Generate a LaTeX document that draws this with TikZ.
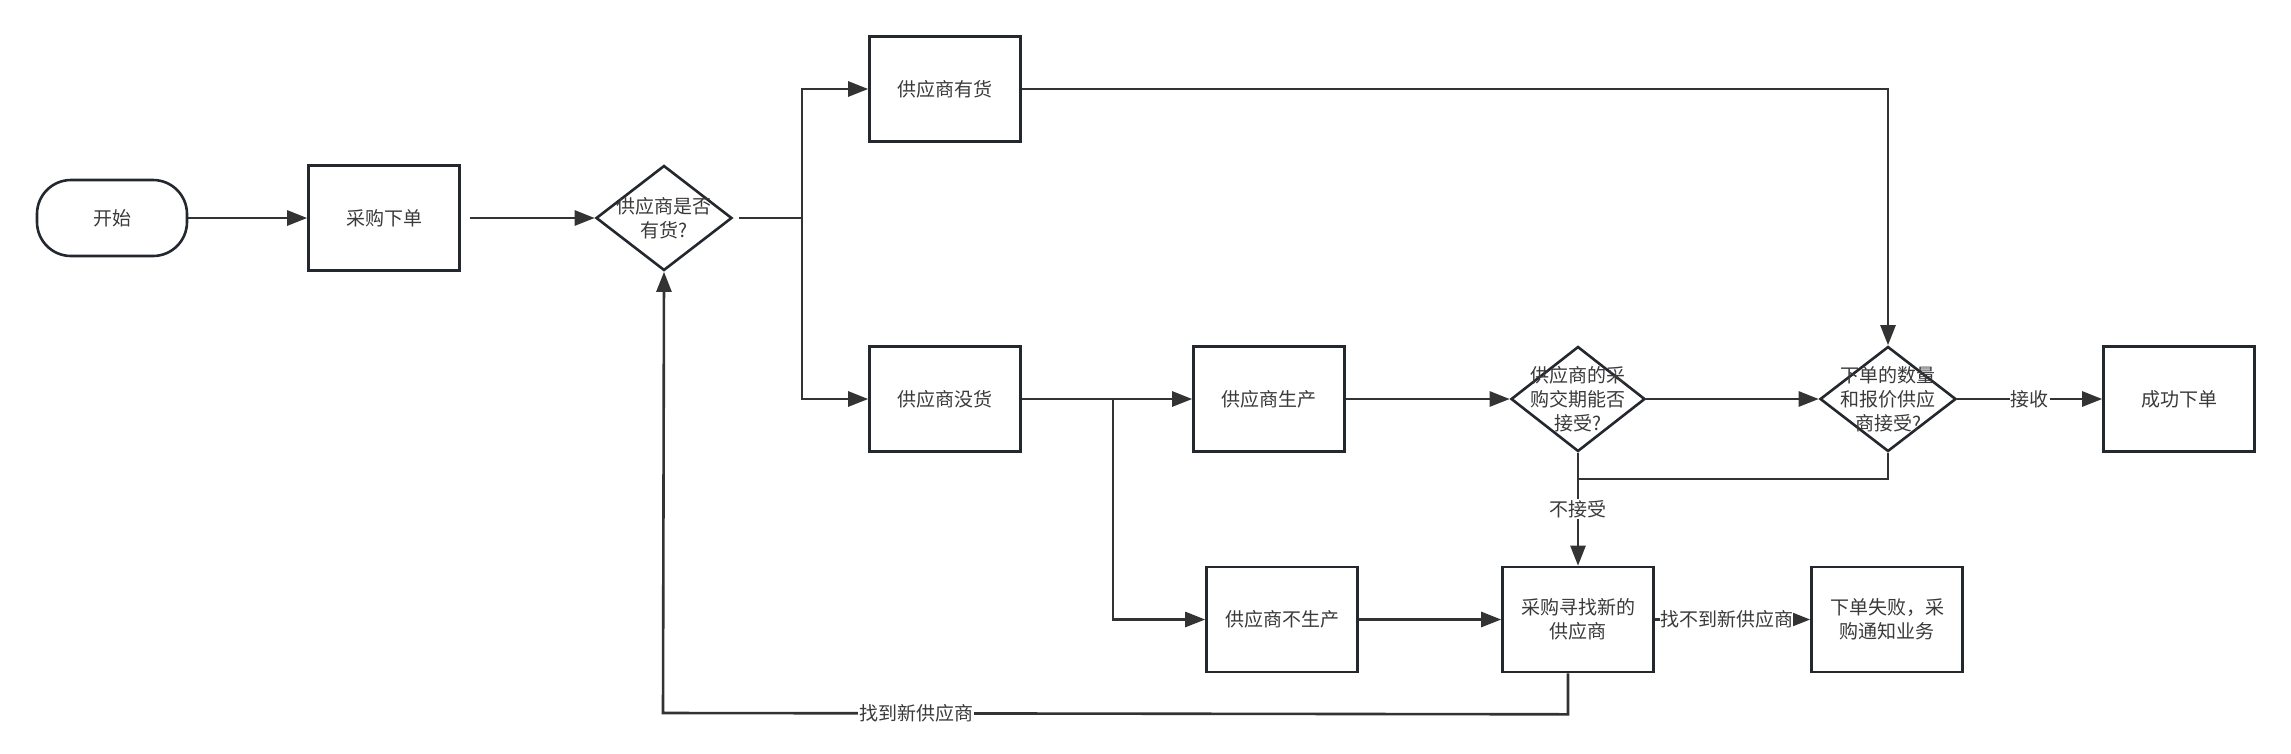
\documentclass[tikz,border=0pt]{standalone}
\usepackage{fontspec}
\newfontfamily\cjk{Noto Sans CJK SC}
\usetikzlibrary{arrows.meta,shapes.geometric,calc}
\definecolor{edgec}{HTML}{23272E}
\definecolor{linec}{HTML}{333333}
\definecolor{txtc}{HTML}{3A3A3A}
\begin{document}
\begin{tikzpicture}[x=1pt,y=-1pt,
  txt/.style={text=txtc, font=\cjk\fontsize{19}{24}\selectfont, align=center},
  base/.style={draw=edgec, line width=2.6pt, fill=white, inner sep=0pt, txt},
  proc/.style={base, rectangle, minimum width=151pt, minimum height=105pt},
  term/.style={base, rectangle, rounded corners=34pt, minimum width=150pt, minimum height=76pt},
  dec/.style={base, diamond, minimum width=136pt, minimum height=105pt},
  inner/.style={txt, inner sep=0pt},
  wire/.style={draw=linec, line width=2.6pt},
  conn/.style={wire, -{Triangle[length=20pt,width=15pt]}},
  lab/.style={txt, fill=white, inner sep=1pt}
]
\useasboundingbox (0,0) rectangle (2291,753);

\node[term] (start) at (112,218) {开始};
\node[proc] (order) at (384,218) {采购下单};
\node[dec, label={[inner]center:供应商是否\\有货?}] (d1) at (664,218) {};
\node[proc] (have) at (945,89) {供应商有货};
\node[proc] (none) at (945,399) {供应商没货};
\node[proc] (prod) at (1269,399) {供应商生产};
\node[dec, minimum width=134pt, label={[inner]center:供应商的采\\购交期能否\\接受?}] (d2) at (1578,399) {};
\node[dec, label={[inner]center:下单的数量\\和报价供应\\商接受?}] (d3) at (1888,399) {};
\node[proc] (ok) at (2179,399) {成功下单};
\node[proc] (noprod) at (1282,619.5) {供应商不生产};
\node[proc] (find) at (1578,619.5) {采购寻找新的\\供应商};
\node[proc] (fail) at (1887,619.5) {下单失败，采\\购通知业务};

\coordinate (b1) at (802,218);
\coordinate (b2) at (1113,399);
\coordinate (j1) at (1578,479);
\coordinate (c1) at (663,713);

\draw[conn] (start.east) -- (order.west);
\draw[conn, shorten <=9pt] (order.east) -- (d1.west);
\draw[wire, shorten <=6pt] (d1.east) -- (b1);
\draw[conn] (b1) |- (have.west);
\draw[conn] (b1) |- (none.west);
\draw[conn] (have.east) -| (d3.north);
\draw[conn] (none.east) -- (prod.west);
\draw[conn] (b2) |- (noprod.west);
\draw[conn] (prod.east) -- (d2.west);
\draw[conn] (d2.east) -- (d3.west);
\draw[conn] (d3.east) -- node[lab]{接收} (ok.west);
\draw[conn] (d2.south) -- node[lab]{不接受} (find.north);
\draw[wire] (d3.south) |- (j1);
\draw[conn] (noprod.east) -- (find.west);
\draw[conn] (find.east) -- node[lab, inner sep=0pt, xshift=-6pt]{找不到新供应商} (fail.west);
\draw[conn] ([xshift=-10pt]find.south) -- ++(0,41) -- node[lab, pos=0.72]{找到新供应商} (c1) -- (d1.south);
\end{tikzpicture}
\end{document}
